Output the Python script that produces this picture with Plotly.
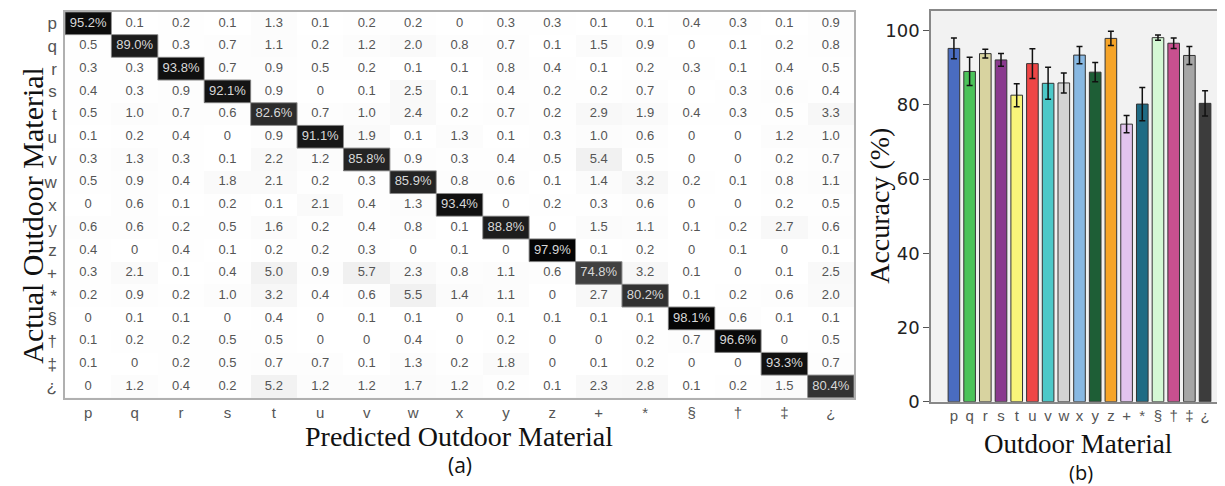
import plotly.graph_objects as go

materials = ["p", "q", "r", "s", "t", "u", "v", "w", "x", "y", "z", "+", "*", "§", "†", "‡", "¿"]

conf_p = [95.2, 0.1, 0.2, 0.1, 1.3, 0.1, 0.2, 0.2, 0, 0.3, 0.3, 0.1, 0.1, 0.4, 0.3, 0.1, 0.9]
conf_q = [0.5, 89.0, 0.3, 0.7, 1.1, 0.2, 1.2, 2.0, 0.8, 0.7, 0.1, 1.5, 0.9, 0, 0.1, 0.2, 0.8]
conf_r = [0.3, 0.3, 93.8, 0.7, 0.9, 0.5, 0.2, 0.1, 0.1, 0.8, 0.4, 0.1, 0.2, 0.3, 0.1, 0.4, 0.5]
conf_s = [0.4, 0.3, 0.9, 92.1, 0.9, 0, 0.1, 2.5, 0.1, 0.4, 0.2, 0.2, 0.7, 0, 0.3, 0.6, 0.4]
conf_t = [0.5, 1.0, 0.7, 0.6, 82.6, 0.7, 1.0, 2.4, 0.2, 0.7, 0.2, 2.9, 1.9, 0.4, 0.3, 0.5, 3.3]
conf_u = [0.1, 0.2, 0.4, 0, 0.9, 91.1, 1.9, 0.1, 1.3, 0.1, 0.3, 1.0, 0.6, 0, 0, 1.2, 1.0]
conf_v = [0.3, 1.3, 0.3, 0.1, 2.2, 1.2, 85.8, 0.9, 0.3, 0.4, 0.5, 5.4, 0.5, 0, 0, 0.2, 0.7]
conf_w = [0.5, 0.9, 0.4, 1.8, 2.1, 0.2, 0.3, 85.9, 0.8, 0.6, 0.1, 1.4, 3.2, 0.2, 0.1, 0.8, 1.1]
conf_x = [0, 0.6, 0.1, 0.2, 0.1, 2.1, 0.4, 1.3, 93.4, 0, 0.2, 0.3, 0.6, 0, 0, 0.2, 0.5]
conf_y = [0.6, 0.6, 0.2, 0.5, 1.6, 0.2, 0.4, 0.8, 0.1, 88.8, 0, 1.5, 1.1, 0.1, 0.2, 2.7, 0.6]
conf_z = [0.4, 0, 0.4, 0.1, 0.2, 0.2, 0.3, 0, 0.1, 0, 97.9, 0.1, 0.2, 0, 0.1, 0, 0.1]
conf_plus = [0.3, 2.1, 0.1, 0.4, 5.0, 0.9, 5.7, 2.3, 0.8, 1.1, 0.6, 74.8, 3.2, 0.1, 0, 0.1, 2.5]
conf_star = [0.2, 0.9, 0.2, 1.0, 3.2, 0.4, 0.6, 5.5, 1.4, 1.1, 0, 2.7, 80.2, 0.1, 0.2, 0.6, 2.0]
conf_sect = [0, 0.1, 0.1, 0, 0.4, 0, 0.1, 0.1, 0, 0.1, 0.1, 0.1, 0.1, 98.1, 0.6, 0.1, 0.1]
conf_dag = [0.1, 0.2, 0.2, 0.5, 0.5, 0, 0, 0.4, 0, 0.2, 0, 0, 0.2, 0.7, 96.6, 0, 0.5]
conf_ddag = [0.1, 0, 0.2, 0.5, 0.7, 0.7, 0.1, 1.3, 0.2, 1.8, 0, 0.1, 0.2, 0, 0, 93.3, 0.7]
conf_inv = [0, 1.2, 0.4, 0.2, 5.2, 1.2, 1.2, 1.7, 1.2, 0.2, 0.1, 2.3, 2.8, 0.1, 0.2, 1.5, 80.4]

confusion = [conf_p, conf_q, conf_r, conf_s, conf_t, conf_u, conf_v, conf_w, conf_x,
             conf_y, conf_z, conf_plus, conf_star, conf_sect, conf_dag, conf_ddag, conf_inv]

accuracy = [95.2, 89.0, 93.8, 92.1, 82.6, 91.1, 85.8, 85.9, 93.4, 88.8, 97.9, 74.8, 80.2, 98.1, 96.6, 93.3, 80.4]
acc_err = [2.8, 3.8, 1.2, 1.7, 3.1, 4.0, 4.3, 2.7, 2.3, 2.6, 1.9, 2.3, 4.5, 0.7, 1.4, 2.4, 3.4]
bar_colors = ["#4a6cc0", "#4cc35a", "#d8d3a0", "#8a3a8e", "#f8f47a", "#ef4646", "#4cc8c8",
              "#d4d4d4", "#88b8e2", "#1e5e36", "#f6a428", "#e2c4ee", "#1f6b84", "#d4f8d4",
              "#c8508f", "#a6a6a6", "#3c3c3c"]

W, H = 1225, 486
def px(x):
    return x / W
def py(y):
    return 1 - y / H

fig = go.Figure()

# heatmap
fig.add_trace(go.Heatmap(
    z=confusion, x=materials, y=materials,
    colorscale=[[0, "#ffffff"], [1, "#000000"]], zmin=0, zmax=100,
    showscale=False, xaxis="x", yaxis="y", hoverinfo="skip"))

tx, ty, tt, tc = [], [], [], []
for i, row in enumerate(confusion):
    for j, v in enumerate(row):
        tx.append(materials[j])
        ty.append(materials[i])
        if i == j:
            tt.append(f"{v:.1f}%")
            tc.append("#d8d8d8")
        else:
            tt.append("0" if v == 0 else f"{v:.1f}")
            tc.append("#555555")
fig.add_trace(go.Scatter(
    x=tx, y=ty, text=tt, mode="text",
    textfont=dict(family="Liberation Sans, Arial", size=13, color=tc),
    xaxis="x", yaxis="y", hoverinfo="skip", showlegend=False))

shapes = []
for i in range(len(materials)):
    shapes.append(dict(type="rect", xref="x", yref="y", x0=i - 0.5, x1=i + 0.5,
                       y0=i - 0.5, y1=i + 0.5, line=dict(color="#8a8a8a", width=1)))

# bar chart
fig.add_trace(go.Bar(
    x=materials, y=accuracy,
    marker=dict(color=bar_colors, line=dict(color="#333333", width=1)),
    error_y=dict(type="data", array=acc_err, color="#111111", thickness=1.5, width=3),
    width=0.74, xaxis="x2", yaxis="y2", showlegend=False))

serif = "Liberation Serif, Times New Roman, serif"
ann = [
    dict(text="Actual Outdoor Material", x=px(25), y=py(212), textangle=-90,
         font=dict(family=serif, size=30, color="#111")),
    dict(text="Predicted Outdoor Material", x=px(451), y=py(437),
         font=dict(family=serif, size=28, color="#111")),
    dict(text="(a)", x=px(452), y=py(467),
         font=dict(family="Open Sans, sans-serif", size=21, color="#111")),
    dict(text="Accuracy (%)", x=px(872), y=py(202), textangle=-90,
         font=dict(family=serif, size=28, color="#111")),
    dict(text="Outdoor Material", x=px(1070), y=py(445),
         font=dict(family=serif, size=27, color="#111")),
    dict(text="(b)", x=px(1073), y=py(474),
         font=dict(family="Open Sans, sans-serif", size=20, color="#111")),
]
for a in ann:
    a.update(xref="paper", yref="paper", showarrow=False, xanchor="center", yanchor="middle")

fig.update_layout(
    width=W, height=H, margin=dict(l=0, r=0, t=0, b=0),
    paper_bgcolor="white", plot_bgcolor="#f2f2f2",
    shapes=shapes, annotations=ann, showlegend=False,
    xaxis=dict(domain=[px(57), px(846)], type="category", range=[-0.5, 16.5],
               showline=True, mirror=True, linecolor="#b0b0b0", linewidth=1.5,
               showgrid=False, zeroline=False, ticks="", ticklabelstandoff=0,
               tickfont=dict(family="Liberation Sans, Arial", size=15, color="#555")),
    yaxis=dict(domain=[py(398), py(4)], type="category", range=[16.5, -0.5],
               showline=True, mirror=True, linecolor="#b0b0b0", linewidth=1.5,
               showgrid=False, zeroline=False, ticks="", ticklabelstandoff=3,
               tickfont=dict(family="Liberation Sans, Arial", size=17, color="#555")),
    xaxis2=dict(domain=[px(923), px(1220)], type="category", range=[-1.46, 17.46],
                anchor="y2", showline=True, mirror=True, linecolor="#888", linewidth=1.5,
                showgrid=False, zeroline=False, ticks="",
                tickmode="array", tickvals=materials, ticktext=materials,
                ticklabelstandoff=0,
                tickfont=dict(family="Liberation Sans, Arial", size=15, color="#555")),
    yaxis2=dict(domain=[py(402), py(3)], range=[0, 105.3], anchor="x2",
                tickvals=[0, 20, 40, 60, 80, 100],
                showline=True, mirror=True, linecolor="#888", linewidth=1.5,
                showgrid=False, zeroline=False, ticks="outside", ticklen=6, tickcolor="#555",
                tickfont=dict(family="DejaVu Sans, Verdana", size=18, color="#222")),
)

fig.write_html("out.html")
